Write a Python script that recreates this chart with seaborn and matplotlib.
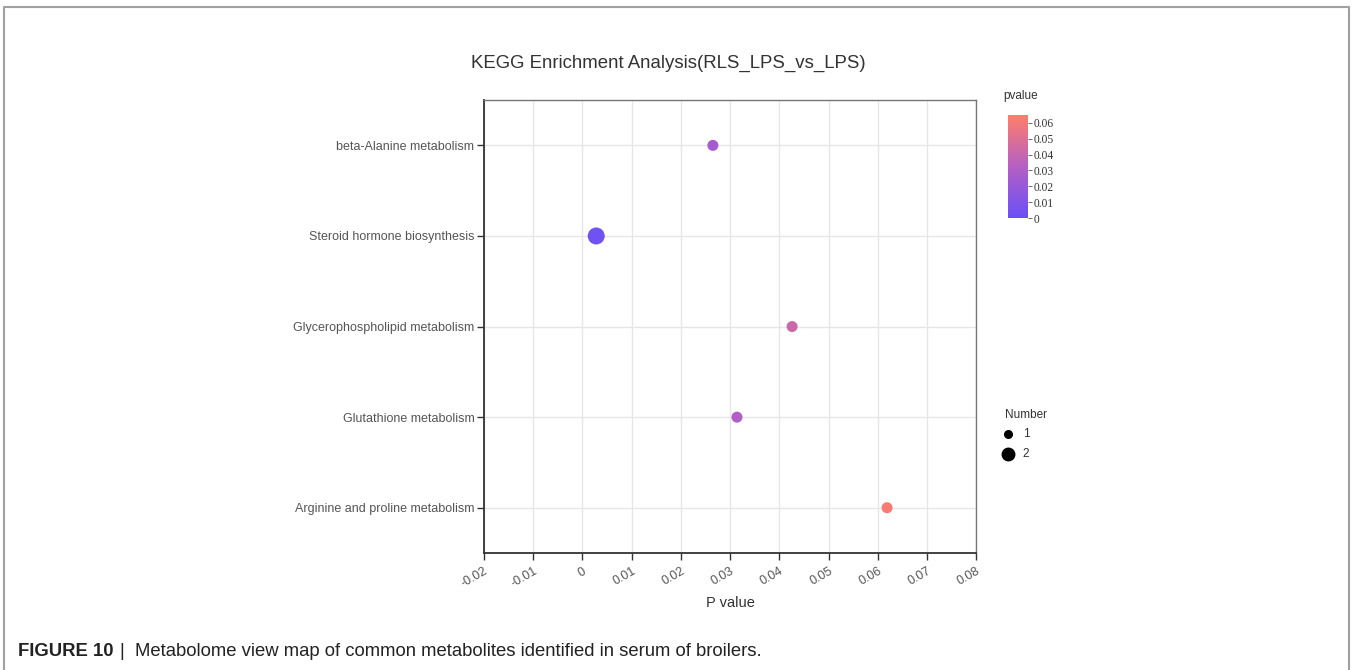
import numpy as np
import pandas as pd
import seaborn as sns
import matplotlib.pyplot as plt
from matplotlib.colors import LinearSegmentedColormap, Normalize
from matplotlib.lines import Line2D

pathways = ['beta-Alanine metabolism', 'Steroid hormone biosynthesis',
            'Glycerophospholipid metabolism', 'Glutathione metabolism',
            'Arginine and proline metabolism']
pvalues = [0.0265, 0.0028, 0.0426, 0.0314, 0.0619]
numbers = [1, 2, 1, 1, 1]
x_ticks = [-0.02, -0.01, 0, 0.01, 0.02, 0.03, 0.04, 0.05, 0.06, 0.07, 0.08]
x_ticklabels = ['-0.02', '-0.01', '0', '0.01', '0.02', '0.03', '0.04', '0.05', '0.06', '0.07', '0.08']
cbar_ticks = [0, 0.01, 0.02, 0.03, 0.04, 0.05, 0.06]

df = pd.DataFrame({'pathway': pathways, 'pvalue': pvalues, 'Number': numbers})

sns.set_style('white')
plt.rcParams['font.family'] = ['Liberation Sans', 'DejaVu Sans']

cmap = LinearSegmentedColormap.from_list('pv', ['#6a50f8', '#b45fc4', '#ff7e69'])
norm = Normalize(vmin=0, vmax=0.065)

fig = plt.figure(figsize=(13.52, 6.70), dpi=100)
ax = fig.add_axes([0.358, 0.1746, 0.364, 0.676])

ypos = np.arange(len(pathways))
df['y'] = ypos
sns.scatterplot(data=df, x='pvalue', y='y', hue='pvalue', palette=cmap, hue_norm=norm,
                size='Number', sizes={1: 63, 2: 150}, legend=False, linewidth=0, ax=ax, zorder=3)

ax.set_xlim(-0.02, 0.08)
ax.set_ylim(len(pathways) - 0.5, -0.5)
ax.set_xticks(x_ticks)
ax.set_xticklabels(x_ticklabels, rotation=30, ha='right', rotation_mode='anchor', fontsize=9, color='#555')
ax.set_yticks(ypos)
ax.set_yticklabels(pathways, fontsize=9, color='#555')
ax.tick_params(axis='both', length=5, width=1, color='#333', direction='out', bottom=True, left=True, pad=2)
ax.tick_params(axis='x', pad=4)
ax.grid(True, color='#e6e6e6', linewidth=1)
ax.set_axisbelow(True)
for side in ['left', 'bottom']:
    ax.spines[side].set_color('#333')
    ax.spines[side].set_linewidth(1.3)
for side in ['top', 'right']:
    ax.spines[side].set_color('#777')
    ax.spines[side].set_linewidth(1)
ax.set_xlabel('P value', fontsize=10.5, color='#333', labelpad=4)
ax.set_ylabel('')

fig.text(0.494, 0.905, 'KEGG Enrichment Analysis(RLS_LPS_vs_LPS)', ha='center', va='center',
         fontsize=13.4, color='#333')

# colorbar
cax = fig.add_axes([0.7456, 0.6746, 0.0148, 0.1537])
sm = plt.cm.ScalarMappable(cmap=cmap, norm=norm)
cb = fig.colorbar(sm, cax=cax, ticks=cbar_ticks)
cb.outline.set_visible(False)
cb.ax.set_yticklabels(['0', '0.01', '0.02', '0.03', '0.04', '0.05', '0.06'],
                      fontsize=8.3, family='Liberation Serif', color='#333')
cb.ax.tick_params(length=3, width=0.6, color='#555', pad=1)
fig.text(0.742, 0.857, 'pvalue', fontsize=8.5, color='#333', va='center')

# size legend
fig.text(0.7435, 0.381, 'Number', fontsize=8.5, color='#333', va='center')
for n, yy in zip([1, 2], [0.352, 0.322]):
    fig.add_artist(Line2D([0.7456], [yy], marker='o', color='black', linestyle='none',
                          markersize=5.5 + 3.5 * (n - 1), transform=fig.transFigure))
    fig.text(0.7565, yy, str(n), fontsize=8.5, color='#333', va='center')

# figure frame
frame = dict(color='#a0a0a0', linewidth=1.5, transform=fig.transFigure)
fig.add_artist(Line2D([0.003, 0.003, 0.9975, 0.9975], [0.0, 0.989, 0.989, 0.0], **frame))

fig.text(0.0135, 0.028, 'FIGURE 10', fontsize=13.3, fontweight='bold', color='#222', va='center')
fig.text(0.0885, 0.028, '|  Metabolome view map of common metabolites identified in serum of broilers.',
         fontsize=13.3, color='#222', va='center')

fig.savefig('out.png', dpi=100)
